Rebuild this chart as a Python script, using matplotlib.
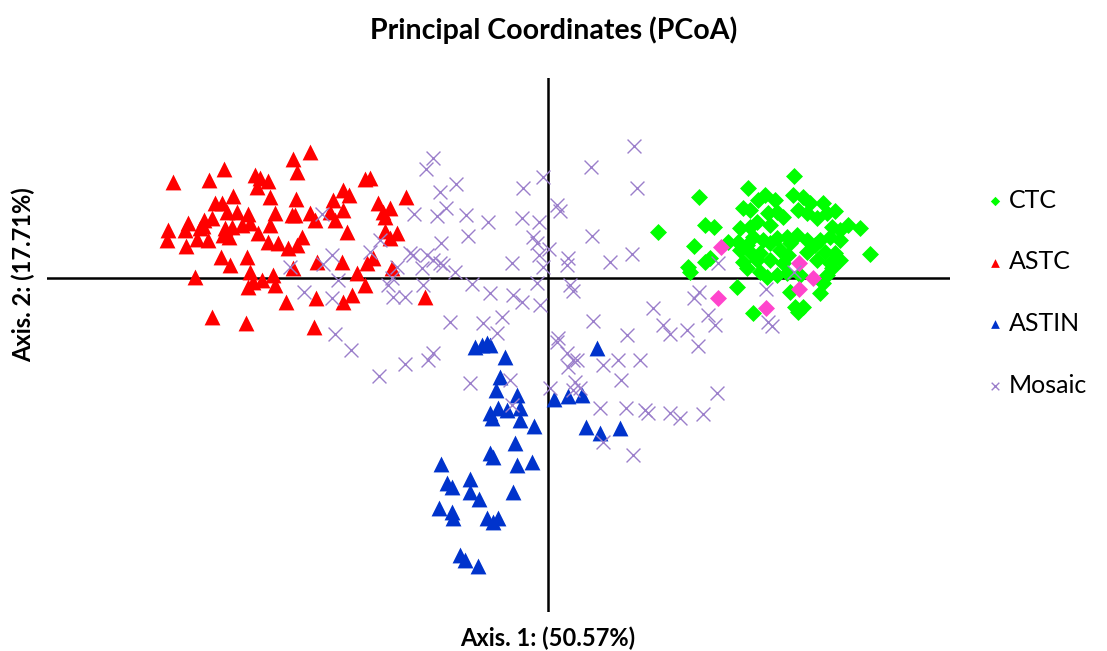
import numpy as np
import matplotlib.pyplot as plt

# PCoA scores (units of 1e-3)
ctc = [(246, 102), (200, 90), (151, 81), (110, 46), (157, 53), (166, 51), (146, 32), (140, 11),
       (142, 6), (157, 16), (162, 20), (180, 36), (189, -9), (205, -35), (312, 50), (300, 53),
       (322, 24), (275, 75), (287, 67), (250, -34), (255, -29), (247, -29), (272, -15), (242, -14),
       (210, 78), (217, 83), (227, 78), (245, 83), (255, 81), (262, 75), (195, 70), (202, 68),
       (209, 56), (220, 65), (229, 66), (235, 61), (250, 68), (259, 65), (269, 60), (279, 65),
       (284, 51), (292, 48), (202, 51), (222, 53), (192, 50), (205, 41), (215, 38), (229, 40),
       (239, 41), (249, 43), (259, 38), (272, 38), (282, 41), (292, 38), (190, 36), (199, 33),
       (222, 35), (242, 35), (267, 33), (192, 28), (202, 26), (212, 25), (232, 28), (240, 23),
       (259, 26), (277, 26), (287, 25), (292, 18), (195, 16), (209, 18), (222, 18), (235, 15),
       (269, 18), (282, 15), (199, 10), (212, 6), (219, 1), (229, 3), (239, 5), (252, 3),
       (279, 3), (284, 10), (275, -5)]
ctc_other = [(173, 31), (251, 15), (265, 0), (251, -11), (170, -20), (218, -30)]

astc = [(-238, 126), (-255, 119), (-251, 106), (-324, 109), (-375, 96), (-339, 98), (-293, 103),
        (-288, 100), (-280, 97), (-291, 91), (-315, 82), (-278, 81), (-252, 79), (-333, 75),
        (-326, 75), (-215, 78), (-273, 65), (-311, 66), (-321, 66), (-300, 64), (-256, 63),
        (-253, 63), (-238, 65), (-233, 58), (-218, 66), (-213, 58), (-344, 58), (-336, 60),
        (-360, 55), (-380, 48), (-381, 38), (-363, 48), (-348, 50), (-345, 52), (-323, 50),
        (-316, 51), (-306, 53), (-298, 55), (-278, 53), (-351, 39), (-340, 38), (-319, 41),
        (-325, 43), (-290, 45), (-280, 36), (-270, 35), (-260, 30), (-251, 33), (-246, 41),
        (-362, 32), (-327, 21), (-318, 13), (-301, 21), (-231, 16), (-353, 1), (-298, 6),
        (-295, -4), (-300, -9), (-286, -2), (-275, 3), (-273, -7), (-262, -24), (-232, -20),
        (-336, -39), (-302, -45), (-234, -49), (-255, 10), (-183, 99), (-178, 100), (-205, 88),
        (-199, 83), (-142, 81), (-170, 75), (-165, 66), (-158, 70), (-163, 61), (-205, 68),
        (-201, 46), (-163, 47), (-151, 45), (-158, 40), (-181, 15), (-175, 20), (-206, 16),
        (-191, 5), (-183, -7), (-196, -17), (-205, -24), (-123, -19), (-156, 10)]

astin = [(-73, -69), (-66, -67), (-61, -65), (-58, -67), (-43, -79), (-48, -99), (-52, -112),
         (-31, -117), (-28, -130), (-41, -132), (-50, -130), (-58, -135), (-56, -140), (-28, -142),
         (-14, -148), (-33, -165), (-58, -175), (-55, -179), (-31, -187), (-16, -184), (-107, -186),
         (-101, -205), (-96, -209), (-78, -201), (-78, -214), (-69, -221), (-35, -214), (-109, -230),
         (-96, -234), (-95, -240), (-61, -240), (-55, -244), (-50, -240), (-88, -277), (-83, -282),
         (-70, -288), (6, -121), (49, -70), (20, -118), (34, -117), (38, -149), (52, -155), (72, -150)]

mosaic = [(-258, 11), (-226, 64), (-216, 23), (-225, 14), (-210, -2), (-244, -14), (-216, -20),
          (-213, -56), (-197, -72), (-169, -98), (-143, -86), (-115, 120), (-122, 109), (-92, 94),
          (-108, 86), (-102, 70), (-111, 62), (-134, 64), (-82, 63), (-60, 56), (-80, 42), (-26, 60),
          (-25, 90), (-5, 101), (-9, 56), (-15, 41), (-11, 35), (-9, 23), (-5, 11), (-168, 38),
          (-178, 26), (-138, 25), (-135, 23), (-121, 23), (-115, 18), (-108, 15), (-105, 13),
          (-107, 35), (-126, 10), (-151, 11), (-93, 6), (-156, 0), (-160, -7), (-125, -7), (-76, -6),
          (-58, -15), (-36, 15), (-11, -5), (-35, -17), (-26, -24), (-8, -27), (-155, -19),
          (-143, -19), (-98, -44), (-65, -45), (-46, -39), (-51, -55), (-120, -82), (-115, -75),
          (-78, -105), (-38, -102), (-36, -127), (2, -110), (9, -64), (86, 132), (43, 111), (89, 90),
          (9, 73), (12, 67), (44, 42), (84, 24), (62, 16), (20, 20), (19, 13), (1, 29), (22, -7),
          (25, -13), (45, -43), (10, -60), (105, -30), (115, -47), (122, -56), (139, -52), (151, -14),
          (146, -20), (170, 15), (160, -37), (167, -47), (19, -75), (25, -82), (20, -89), (29, -82),
          (55, -87), (70, -82), (92, -82), (79, -57), (150, -68), (73, -102), (27, -104), (32, -110),
          (25, -112), (52, -130), (78, -130), (97, -132), (100, -135), (122, -135), (132, -140),
          (155, -136), (169, -115), (55, -164), (85, -177), (246, 6), (218, -11), (220, -44), (224, -48)]

x_label = 'Axis. 1: (50.57%)'
y_label = 'Axis. 2: (17.71%)'


def xy(pts):
    a = np.array(pts, dtype=float) / 1000.0
    return a[:, 0], a[:, 1]


plt.rcParams['font.family'] = ['Lato', 'DejaVu Sans']

fig = plt.figure(figsize=(11.07, 6.51), dpi=100)
ax = fig.add_axes([0.0425, 0.0599, 0.8155, 0.8202])

ax.axhline(0, color='black', lw=1.8, zorder=1)
ax.axvline(0, color='black', lw=1.8, zorder=1)

ax.scatter(*xy(ctc), marker='D', s=75, color='#00ff00', linewidths=0, label='CTC', zorder=2)
ax.scatter(*xy(ctc_other), marker='D', s=75, color='#ff44cc', linewidths=0, zorder=3)
ax.scatter(*xy(astc), marker='^', s=130, color='#ff0000', linewidths=0, label='ASTC', zorder=3)
ax.scatter(*xy(astin), marker='^', s=130, color='#0033cc', linewidths=0, label='ASTIN', zorder=3)
ax.scatter(*xy(mosaic), marker='x', s=100, color='#9b7fcb', linewidths=1.0, label='Mosaic', zorder=4)

ax.set_xlim(-0.501, 0.402)
ax.set_ylim(-0.334, 0.200)
ax.set_xticks([])
ax.set_yticks([])
for s in ax.spines.values():
    s.set_visible(False)

fig.text(0.5, 0.953, 'Principal Coordinates (PCoA)', ha='center', va='center',
         fontsize=20.5, fontweight='bold')
fig.text(0.495, 0.019, x_label, ha='center', va='center', fontsize=17, fontweight='bold')
fig.text(0.021, 0.578, y_label, ha='center', va='center', rotation=90, fontsize=17, fontweight='bold')

fig.legend(loc='upper left', bbox_to_anchor=(0.872, 0.745), frameon=False, fontsize=18,
           labelspacing=1.55, handlelength=0.55, handletextpad=0.3, markerscale=0.55)

fig.savefig('out.png', dpi=100)
